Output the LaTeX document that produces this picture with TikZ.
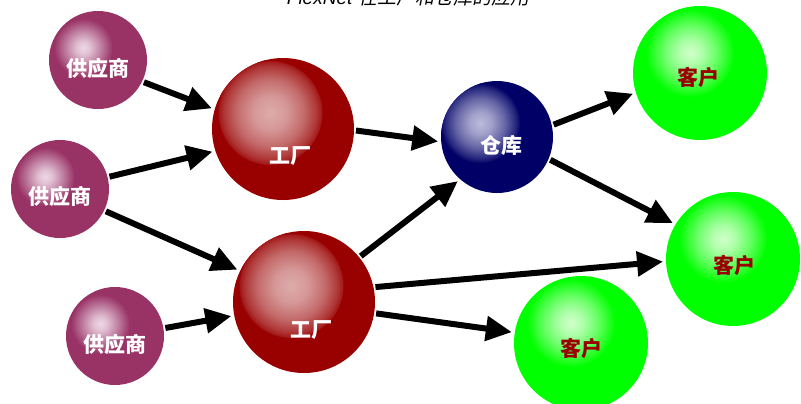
\documentclass[tikz,border=0pt]{standalone}
\usepackage{fontspec}
\newfontfamily\cjk{Noto Sans CJK SC}
\newfontfamily\cjkit[FakeSlant=0.2]{Noto Sans CJK SC}
\newfontfamily\latsans{Liberation Sans}
\usetikzlibrary{arrows.meta,calc}
\definecolor{supp}{HTML}{993366}
\definecolor{suppH}{HTML}{EDD8E6}
\definecolor{fac}{HTML}{990000}
\definecolor{facH}{HTML}{DEACAC}
\definecolor{wh}{HTML}{000066}
\definecolor{whH}{HTML}{BCBCDC}
\definecolor{cu}{HTML}{00FF00}
\definecolor{cuH}{HTML}{D2FFCC}
\definecolor{custxt}{HTML}{990000}
\pgfdeclareradialshading{supp-ball}{\pgfpoint{0bp}{0bp}}{color(0bp)=(suppH); color(6bp)=(supp!15!suppH); color(14bp)=(supp!50!suppH); color(21bp)=(supp!82!suppH); color(25bp)=(supp); color(50bp)=(supp)}
\pgfdeclareradialshading{fac-ball}{\pgfpoint{0bp}{0bp}}{color(0bp)=(facH); color(8bp)=(fac!12!facH); color(16bp)=(fac!38!facH); color(22bp)=(fac!68!facH); color(24.5bp)=(fac!86!facH); color(25bp)=(fac); color(50bp)=(fac)}
\pgfdeclareradialshading{wh-ball}{\pgfpoint{0bp}{0bp}}{color(0bp)=(whH); color(7bp)=(wh!15!whH); color(15bp)=(wh!45!whH); color(22bp)=(wh!80!whH); color(25bp)=(wh); color(50bp)=(wh)}
\pgfdeclareradialshading{cu-ball}{\pgfpoint{0bp}{0bp}}{color(0bp)=(cuH); color(7bp)=(cu!18!cuH); color(15bp)=(cu!50!cuH); color(22bp)=(cu!85!cuH); color(25bp)=(cu); color(50bp)=(cu)}
\tikzset{
  ballnode/.style={circle, inner sep=0pt, outer sep=0pt, minimum size=#1},
  lab/.style={inner sep=0pt, font=\cjk\bfseries\fontsize{21bp}{24bp}\selectfont},
  arr/.style={line width=6bp, -{Triangle[length=26bp,width=24bp]}, shorten <=2bp, shorten >=3bp}
}
\begin{document}
\begin{tikzpicture}[x=1bp,y=-1bp]
\useasboundingbox (0,0) rectangle (801,403);
\fill[white] (0,0) rectangle (801,403);
\foreach \n/\x/\y/\r/\b/\fx/\fy/\k in {
  s1/98/60/49/supp/-0.3/-0.25/0.6,
  s2/60/189/49/supp/-0.3/-0.25/0.6,
  s3/115/336/49/supp/-0.3/-0.25/0.6,
  f1/283/129/71/fac/-0.18/-0.23/0.74,
  f2/304/302/71/fac/-0.18/-0.23/0.74,
  w/497/137/56/wh/-0.3/-0.25/0.72,
  c1/700/73/67/cu/-0.15/-0.3/0.66,
  c2/733/259/67/cu/-0.15/-0.3/0.66,
  c3/581/343/67/cu/-0.15/-0.3/0.66}{
  \pgfmathsetmacro\d{2*\r}
  \pgfmathsetmacro\R{\k*\r}
  \pgfmathsetmacro\ox{\fx*\r}
  \pgfmathsetmacro\oy{\fy*\r}
  \node[ballnode=\d bp, fill=\b] (\n) at (\x,\y) {};
  \begin{scope}
    \clip (\x,\y) circle[radius=\r bp];
    \shade[shading=\b-ball] ($(\x,\y)+(\ox,\oy)$) circle[radius=\R bp];
  \end{scope}
}
% labels
\node[lab, text=white] (ls1) at (98,68) {供应商};
\node[lab, text=white] (ls2) at (60,196) {供应商};
\node[lab, text=white] (ls3) at (115,344) {供应商};
\node[lab, text=white] (lf1) at (290,156) {工厂};
\node[lab, text=white] (lf2) at (311,330) {工厂};
\node[lab, text=white] (lw) at (501,145) {仓库};
\node[lab, text=custxt] (lc1) at (698,77) {客户};
\node[lab, text=custxt] (lc2) at (734,265) {客户};
\node[lab, text=custxt] (lc3) at (581,348) {客户};
% title (cut off at the top, as in the reference)
\node[anchor=base, inner sep=0pt, font=\fontsize{19bp}{22bp}\selectfont] (title) at (408,4)
  {{\latsans\itshape FlexNet} \cjkit 在工厂和仓库的应用};
% connectors
\draw[arr] (s1.-26) -- (f1.164);
\draw[arr] (s2.14) -- (f1.198);
\draw[arr] (s2.-26) -- (f2.154);
\draw[arr] (s3.9) -- (f2.191);
\draw[arr] (f1.-1) -- (w.185);
\draw[arr] (f2.39) -- (w.229);
\draw[arr] (w.12) -- (c1.197);
\draw[arr] (w.-23) -- (c2.149);
\draw[arr] (f2.12) -- (c2.182);
\draw[arr] (f2.-9) -- (c3.171);
\end{tikzpicture}
\end{document}
